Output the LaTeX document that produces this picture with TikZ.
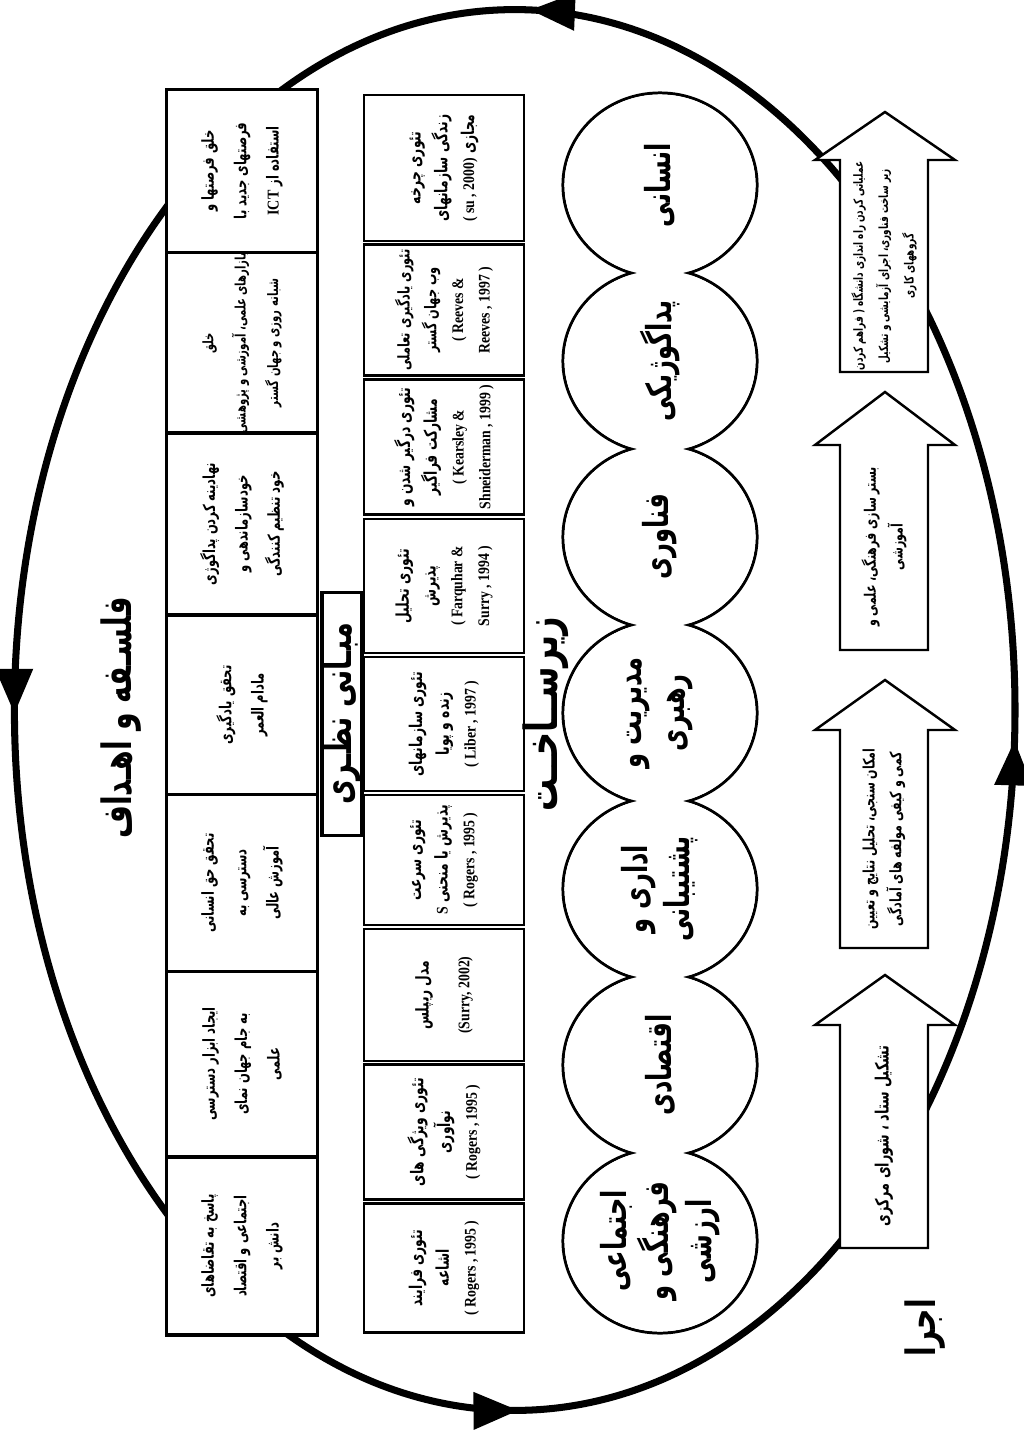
\documentclass[tikz,border=0pt]{standalone}
\usepackage{fontspec}
\usepackage{tikz}
\usetikzlibrary{arrows.meta,shapes,decorations.markings}
\TeXXeTstate=1
\newfontfamily\farsi[Script=Arabic,FakeStretch=0.7]{DejaVu Sans}
\newfontfamily\latinfont[FakeStretch=0.85]{Liberation Serif}
\newcommand{\fa}[1]{\beginR #1\endR}
\newcommand{\la}[1]{{\latinfont\bfseries\fontsize{4.6}{6.5}\selectfont #1}}

\begin{document}
\begin{tikzpicture}[x=0.01cm,y=-0.01cm,
	every node/.style={rotate=90,inner sep=0pt,align=center},
	goalbox/.style={draw,fill=white,line width=0.9pt,minimum height=1.51cm,
		font=\farsi\bfseries\fontsize{4.7}{9.2}\selectfont},
	theorybox/.style={draw,fill=white,line width=0.6pt,minimum height=1.60cm,
		font=\farsi\bfseries\fontsize{5}{7.6}\selectfont},
	layer/.style={font=\farsi\bfseries\fontsize{11.5}{14}\selectfont},
	circletext/.style={font=\farsi\bfseries\fontsize{9.8}{12}\selectfont},
	steptext/.style={font=\farsi\bfseries\fontsize{4.5}{7.6}\selectfont},
	stepshape/.style={draw,fill=white,line width=0.7pt,line join=miter},
	ring/.style={line width=2pt,decoration={markings,
		mark=at position 0.246 with {\arrow{Triangle[length=4.5mm,width=3.6mm]}},
		mark=at position 0.501 with {\arrow{Triangle[length=4.5mm,width=3.6mm]}},
		mark=at position 0.751 with {\arrow{Triangle[length=4.5mm,width=3.6mm]}},
		mark=at position 0.992 with {\arrow{Triangle[length=4.5mm,width=3.6mm]}}},
		postaction={decorate}}]
	\useasboundingbox (0,0) rectangle (1023,1430);
	%
	% outer cycle
	\draw[ring] (1015,710) arc[start angle=0,end angle=360,x radius=5cm,y radius=7cm];
	%
	% philosophy and goals
	\node[layer] (philo) at (121,718) {\fa{فلسـفه و اهـداف}};
	\node[goalbox,minimum width=1.63cm] (g1) at (242,171) {\fa{خلق فرصتها و}\\\fa{فرصتهای جدید با}\\\fa{استفاده از \beginL{\latinfont ICT}\endL}};
	\node[goalbox,minimum width=1.80cm,font=\farsi\bfseries\fontsize{4.1}{9.2}\selectfont] (g2) at (242,343) {\fa{خلق}\\\fa{بازارهای علمی، آموزشی و پژوهشی}\\\fa{شبانه روزی و جهان گستر}};
	\node[goalbox,minimum width=1.82cm] (g3) at (242,524) {\fa{نهادینه کردن پداگوژی}\\\fa{خودسازماندهی و}\\\fa{خود تنظیم کنندگی}};
	\node[goalbox,minimum width=1.80cm] (g4) at (242,705) {\fa{تحقق یادگیری}\\\fa{مادام العمر}};
	\node[goalbox,minimum width=1.77cm] (g5) at (242,883) {\fa{تحقق حق انسانی}\\\fa{دسترسی به}\\\fa{آموزش عالی}};
	\node[goalbox,minimum width=1.85cm] (g6) at (242,1064) {\fa{ایجاد ابزار دسترسی}\\\fa{به جام جهان نمای}\\\fa{علمی}};
	\node[goalbox,minimum width=1.78cm] (g7) at (242,1246) {\fa{پاسخ به تقاضاهای}\\\fa{اجتماعی و اقتصاد}\\\fa{دانش بر}};
	%
	% theoretical foundations
	\node[draw,fill=white,line width=0.9pt,minimum width=2.43cm,minimum height=0.40cm,
		font=\farsi\bfseries\fontsize{11}{12}\selectfont] (theory) at (342,714) {\fa{مبـانی نظـری}};
	\node[theorybox,minimum width=1.46cm] (t1) at (444,168) {\fa{تئوری چرخه}\\\fa{زندگی سازمانهای}\\\fa{مجازی \beginL\la{( su , 2000)}\endL}};
	\node[theorybox,minimum width=1.31cm,font=\farsi\bfseries\fontsize{4.6}{7.6}\selectfont] (t2) at (444,310) {\fa{تئوری یادگیری تعاملی}\\\fa{وب جهان گستر}\\\la{( Reeves \&}\\\la{Reeves , 1997 )}};
	\node[theorybox,minimum width=1.35cm] (t3) at (444,447) {\fa{تئوری درگیر شدن و}\\\fa{مشارکت فراگیر}\\\la{( Kearsley \&}\\\la{Shneiderman , 1999 )}};
	\node[theorybox,minimum width=1.34cm] (t4) at (444,586) {\fa{تئوری تحلیل}\\\fa{پذیرش}\\\la{( Farquhar \&}\\\la{Surry , 1994 )}};
	\node[theorybox,minimum width=1.34cm] (t5) at (444,724) {\fa{تئوری سازمانهای}\\\fa{زنده و پویا}\\\la{( Liber , 1997 )}};
	\node[theorybox,minimum width=1.30cm] (t6) at (444,860) {\fa{تئوری سرعت}\\\fa{پذیرش یا منحنی \beginL\la{S}\endL}\\\la{( Rogers , 1995 )}};
	\node[theorybox,minimum width=1.32cm] (t7) at (444,995) {\fa{مدل ریپلس}\\[4pt]\la{(Surry, 2002)}};
	\node[theorybox,minimum width=1.35cm] (t8) at (444,1132) {\fa{تئوری ویژگی های}\\\fa{نوآوری}\\\la{( Rogers , 1995 )}};
	\node[theorybox,minimum width=1.29cm] (t9) at (444,1268) {\fa{تئوری فرایند}\\\fa{اشاعه}\\\la{( Rogers , 1995 )}};
	%
	% infrastructure
	\node[layer,font=\farsi\bfseries\fontsize{13}{14}\selectfont] (infra) at (546,714) {\fa{زیرســاخــت}};
	\foreach \cy in {185,361,537,713,889,1065,1241}
		\draw[line width=0.85pt] (660,\cy) ellipse [x radius=0.97cm,y radius=0.92cm];
	\foreach \cy in {185,361,537,713,889,1065,1241}
		\fill[white] (660,\cy) ellipse [x radius=0.955cm,y radius=0.905cm];
	\node[circletext] (c1) at (660,185) {\fa{انسانی}};
	\node[circletext] (c2) at (660,361) {\fa{پداگوژیکی}};
	\node[circletext] (c3) at (660,537) {\fa{فناوری}};
	\node[circletext] (c4) at (660,713) {\fa{مدیریت و}\\\fa{رهبری}};
	\node[circletext] (c5) at (660,889) {\fa{اداری و}\\\fa{پشتیبانی}};
	\node[circletext] (c6) at (660,1065) {\fa{اقتصادی}};
	\node[circletext] (c7) at (660,1241) {\fa{اجتماعی}\\\fa{فرهنگی و}\\\fa{ارزشی}};
	%
	% implementation steps
	\node[layer] (exec) at (925,1328) {\fa{اجرا}};
	\draw[stepshape] (840,372) -- (840,160) -- (815,160) -- (885,112) -- (955,160) -- (928,160) -- (928,372) -- cycle;
	\draw[stepshape] (840,650) -- (840,445) -- (815,445) -- (885,392) -- (955,445) -- (928,445) -- (928,650) -- cycle;
	\draw[stepshape] (840,948) -- (840,730) -- (815,730) -- (885,680) -- (955,730) -- (928,730) -- (928,948) -- cycle;
	\draw[stepshape] (840,1248) -- (840,1025) -- (815,1025) -- (885,975) -- (955,1025) -- (928,1025) -- (928,1248) -- cycle;
	\node[steptext,font=\farsi\bfseries\fontsize{3.6}{7.2}\selectfont] (s1) at (884,266) {\fa{عملیاتی کردن راه اندازی دانشگاه ( فراهم کردن}\\\fa{زیر ساخت فناوری، اجرای آزمایشی و تشکیل}\\\fa{گروههای کاری}};
	\node[steptext] (s2) at (884,547) {\fa{بستر سازی فرهنگی، علمی و}\\\fa{آموزشی}};
	\node[steptext] (s3) at (884,839) {\fa{امکان سنجی، تحلیل نتایج و تعیین}\\\fa{کمی و کیفی مولفه های آمادگی}};
	\node[steptext,font=\farsi\bfseries\fontsize{5.2}{7.6}\selectfont] (s4) at (884,1136) {\fa{تشکیل ستاد ، شورای مرکزی}};
\end{tikzpicture}
\end{document}
